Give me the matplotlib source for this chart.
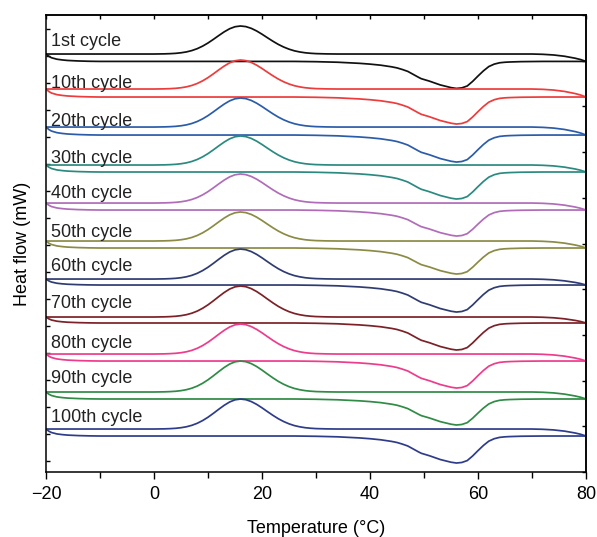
import numpy as np
import matplotlib
matplotlib.use("Agg")
import matplotlib.pyplot as plt

plt.rcParams['font.family'] = ['Liberation Sans', 'DejaVu Sans']

#------------------------------------------
# Data
#------------------------------------------

cycles = ["1st cycle", "10th cycle", "20th cycle", "30th cycle", "40th cycle", "50th cycle",
          "60th cycle", "70th cycle", "80th cycle", "90th cycle", "100th cycle"]
colors = ["#111111", "#ee3b3b", "#2b5caa", "#2b8a80", "#b06cb8", "#8b8b45",
          "#2f3c72", "#7b2127", "#ee3c8c", "#2f8b45", "#2e3c8a"]

# baseline of the cooling (upper) curve for each cycle
offsets = [9.147, 8.381, 7.549, 6.718, 5.886, 5.055, 4.223, 3.392, 2.582, 1.751, 0.941]
# crystallisation peak height
peak_heights = [0.613, 0.635, 0.635, 0.635, 0.635, 0.635, 0.656, 0.678, 0.656, 0.678, 0.656]
# distance between cooling and heating baselines
gaps = [0.162, 0.175, 0.175, 0.153, 0.153, 0.153, 0.131, 0.131, 0.153, 0.153, 0.153]
# melting dip depth
dip_depths = [0.591, 0.591, 0.591, 0.591, 0.569, 0.569, 0.591, 0.591, 0.591, 0.569, 0.591]

# cooling curve shape (normalised)
cool_T = [-20, -15, -10, -5, 0, 2, 3, 4, 5, 6, 7, 8, 9, 10, 11, 12, 13, 14, 15, 16,
          17, 18, 19, 20, 21, 22, 23, 24, 25, 26, 27, 28, 29, 30, 32, 34, 40, 50, 60,
          70, 72, 74, 76, 78, 79, 80]
cool_peak = [0, 0, 0, 0, 0, 0.006, 0.013, 0.024, 0.044, 0.075, 0.123, 0.191, 0.282, 0.394,
             0.524, 0.661, 0.792, 0.902, 0.974, 1.0, 0.979, 0.917, 0.823, 0.707, 0.581,
             0.458, 0.345, 0.25, 0.173, 0.114, 0.073, 0.044, 0.026, 0.014, 0.004, 0,
             0, 0, 0, 0, 0, 0, 0, 0, 0, 0]
cool_end = [0, 0, 0, 0, 0, 0, 0, 0, 0, 0, 0, 0, 0, 0, 0, 0, 0, 0, 0, 0,
            0, 0, 0, 0, 0, 0, 0, 0, 0, 0, 0, 0, 0, 0, 0, 0, 0, 0, 0,
            0, 0.04, 0.13, 0.3, 0.57, 0.75, 1.0]

# heating curve shape (normalised)
heat_T = [-20, -19.5, -19, -18, -17, -16, -14, -12, -10, 0, 10, 20, 26, 30, 34, 36, 38, 40,
          42, 44, 45, 46, 47, 48, 49, 49.5, 50, 51, 52, 53, 54, 55, 56, 57, 58, 59, 60,
          61, 62, 63, 64, 65, 66, 68, 72, 80]
heat_start = [0, 0.3, 0.5, 0.7, 0.8, 0.87, 0.94, 0.98, 1, 1, 1, 1, 1, 1, 1, 1, 1, 1,
              1, 1, 1, 1, 1, 1, 1, 1, 1, 1, 1, 1, 1, 1, 1, 1, 1, 1, 1,
              1, 1, 1, 1, 1, 1, 1, 1, 1]
heat_dip = [0, 0, 0, 0, 0, 0, 0, 0, 0, 0, 0, 0, 0, 0.01, 0.03, 0.05, 0.07, 0.1,
            0.14, 0.2, 0.24, 0.3, 0.37, 0.48, 0.59, 0.64, 0.67, 0.73, 0.8, 0.87, 0.92,
            0.97, 1.0, 0.98, 0.91, 0.74, 0.54, 0.35, 0.19, 0.1, 0.05, 0.03, 0.02,
            0.008, 0, 0]

label_T = -19
label_y = [9.43, 8.51, 7.68, 6.87, 6.10, 5.25, 4.49, 3.68, 2.82, 2.04, 1.20]

#------------------------------------------
# Plot
#------------------------------------------

fig = plt.figure(figsize=(5.97, 5.37), dpi=100)
ax = fig.add_axes([0.0771, 0.121, 0.9045, 0.851])

cool_T = np.array(cool_T)
heat_T = np.array(heat_T)
for i in range(len(cycles)):
    y_cool = offsets[i] + peak_heights[i] * np.array(cool_peak) - gaps[i] * np.array(cool_end)
    y_heat = offsets[i] - gaps[i] * np.array(heat_start) - dip_depths[i] * np.array(heat_dip)
    ax.plot(cool_T, y_cool, color=colors[i], lw=1.25, solid_capstyle='round')
    ax.plot(heat_T, y_heat, color=colors[i], lw=1.25, solid_capstyle='round')
    ax.text(label_T, label_y[i], cycles[i], fontsize=13, va='center', ha='left', color='#222222')

ax.set_xlim(-20, 80)
ax.set_ylim(0, 10)

ax.set_xticks([-20, 0, 20, 40, 60, 80])
ax.set_xticks([-10, 10, 30, 50, 70], minor=True)
ax.tick_params(axis='x', which='major', direction='out', length=5, width=1, labelsize=13, pad=5)
ax.tick_params(axis='x', which='minor', direction='out', length=4, width=1)

left_ticks = (472 - np.arange(29, 472, 27)) / 45.7
ax.set_yticks(left_ticks)
ax.set_yticklabels([])
ax.tick_params(axis='y', which='major', direction='in', length=3, width=1)

top = ax.secondary_xaxis('top')
top.set_xticks(np.arange(-20, 81, 10))
top.set_xticklabels([])
top.tick_params(direction='in', length=3, width=1)
right = ax.secondary_yaxis('right')
right.set_yticks(np.arange(0, 11, 1))
right.set_yticklabels([])
right.tick_params(direction='in', length=3, width=1)

for s in list(ax.spines.values()) + [top.spines['top'], right.spines['right']]:
    s.set_linewidth(1.1)

ax.set_xlabel("Temperature (\u00b0C)", fontsize=13, labelpad=12)
ax.set_ylabel("Heat flow (mW)", fontsize=13, labelpad=7)

fig.savefig("out.png", dpi=100)
